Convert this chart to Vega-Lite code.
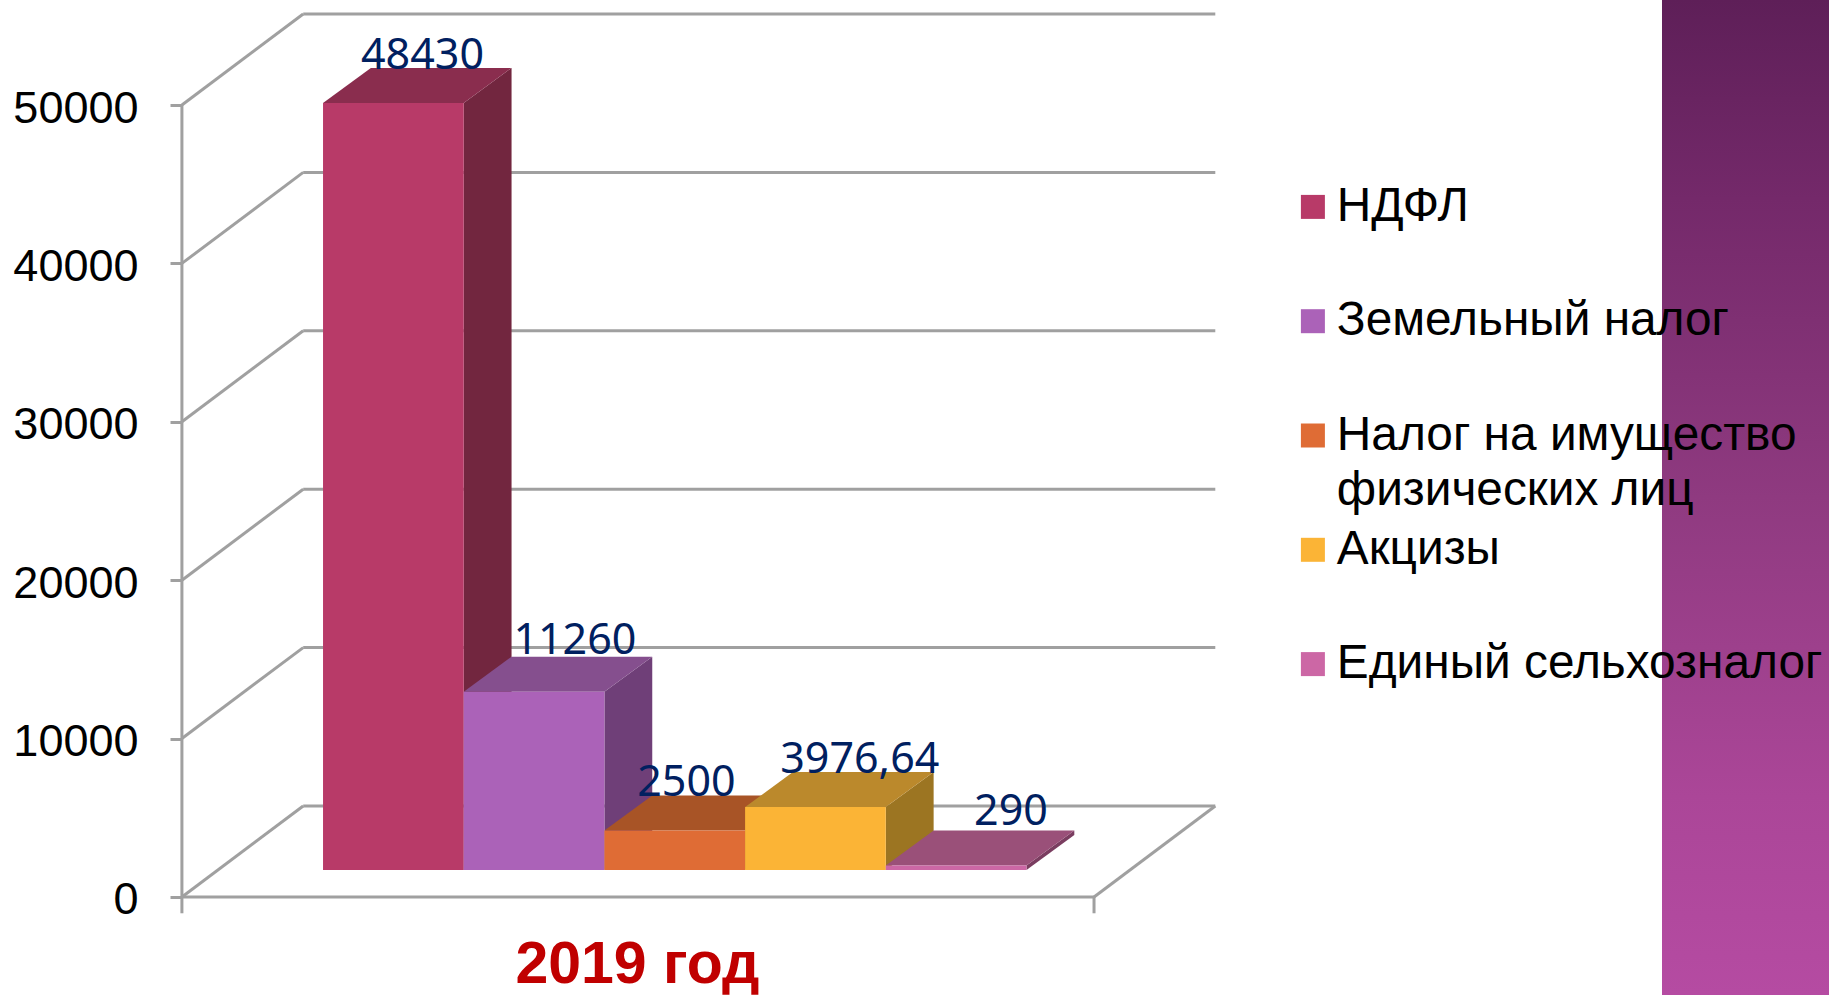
{
"$schema":"https://vega.github.io/schema/vega-lite/v6.json",
"width":1829,"height":995,
"autosize":"none",
"padding":0,
"background":"white",
"config":{"view":{"stroke":null},"font":"Liberation Sans"},
"datasets":{
"taxes":[
{"tax":"НДФЛ","value":48430,"label":"48430"},
{"tax":"Земельный налог","value":11260,"label":"11260"},
{"tax":"Налог на имущество физических лиц","value":2500,"label":"2500"},
{"tax":"Акцизы","value":3976.64,"label":"3976,64"},
{"tax":"Единый сельхозналог","value":290,"label":"290"}
],
"levels":[{"level":0},{"level":10000},{"level":20000},{"level":30000},{"level":40000},{"level":50000}]
},
"resolve":{"scale":{"color":"independent"}},
"layer":[
{"data":{"values":[{"strip":"фон"}]},
 "mark":{"type":"rect","fill":{"gradient":"linear","x1":0,"y1":0,"x2":0,"y2":1,"stops":[{"offset":0,"color":"#5e1f58"},{"offset":0.2,"color":"#74296a"},{"offset":0.5,"color":"#8f3a80"},{"offset":0.8,"color":"#ab4698"},{"offset":1,"color":"#b54ba2"}]}},
 "encoding":{
  "x":{"datum":11.813,"type":"quantitative","scale":{"domain":[0,13],"nice":false,"zero":false},"axis":{"title":"2019 год","titleFontSize":59,"titleFontWeight":"bold","titleColor":"#c00000","titleFont":"Liberation Sans","titleX":637,"titleY":-31,"titleBaseline":"middle","titleAlign":"center","titleAnchor":"start","labels":false,"ticks":false,"domain":false,"grid":false}},
  "x2":{"datum":13},
  "y":{"datum":-6190,"type":"quantitative","scale":{"domain":[-6190,56630],"nice":false,"zero":false},"axis":{"title":null,"values":[0,10000,20000,30000,40000,50000],"format":"d","offset":-182,"domain":false,"grid":false,"tickSize":12,"tickColor":"#a0a0a0","tickWidth":3,"labelFontSize":45,"labelFont":"Liberation Sans","labelColor":"#000000","labelPadding":32,"labelOffset":3}},
  "y2":{"datum":56630}}},
{"data":{"name":"levels"},
 "transform":[{"calculate":"datum.level+5744","as":"back"}],
 "mark":{"type":"rule","color":"#a0a0a0","strokeWidth":3},
 "encoding":{"x":{"datum":2.155,"type":"quantitative"},"x2":{"datum":8.638},"y":{"field":"back","type":"quantitative"}}},
{"data":{"name":"levels"},
 "transform":[{"calculate":"datum.level+5744","as":"back"}],
 "mark":{"type":"rule","color":"#a0a0a0","strokeWidth":3},
 "encoding":{
  "x":{"datum":1.293,"type":"quantitative"},
  "x2":{"datum":2.155},
  "y":{"field":"level","type":"quantitative"},
  "y2":{"field":"back"}}},
{"data":{"name":"levels"},
 "transform":[{"filter":"datum.level==0"},{"calculate":"datum.level+5744","as":"back"}],
 "mark":{"type":"rule","color":"#a0a0a0","strokeWidth":3},
 "encoding":{"x":{"datum":7.776,"type":"quantitative"},"x2":{"datum":8.638},"y":{"field":"level","type":"quantitative"},"y2":{"field":"back"}}},
{"data":{"name":"levels"},
 "transform":[{"filter":"datum.level==0"}],
 "mark":{"type":"rule","color":"#a0a0a0","strokeWidth":3},
 "encoding":{"x":{"datum":1.293,"type":"quantitative"},"x2":{"datum":7.776},"y":{"field":"level","type":"quantitative"}}},
{"data":{"name":"levels"},
 "transform":[{"filter":"datum.level==0"},{"calculate":"-1030","as":"tickEnd"},{"calculate":"[1.293,7.776]","as":"at"},{"flatten":["at"]}],
 "mark":{"type":"rule","color":"#a0a0a0","strokeWidth":3},
 "encoding":{"x":{"field":"at","type":"quantitative"},"y":{"field":"level","type":"quantitative"},"y2":{"field":"tickEnd"}}},
{"data":{"values":[{"from":0,"to":50000}]},
 "mark":{"type":"rule","color":"#a0a0a0","strokeWidth":3},
 "encoding":{"x":{"datum":1.293,"type":"quantitative"},"y":{"field":"from","type":"quantitative"},"y2":{"field":"to"}}},
{"data":{"name":"taxes"},
 "transform":[
  {"window":[{"op":"row_number","as":"rank"}]},
  {"calculate":"[0,1]","as":"t"},{"flatten":["t"]},
  {"calculate":"1.296+datum.rank+1+0.34*datum.t","as":"px"},
  {"calculate":"1700+2209*datum.t","as":"py0"},
  {"calculate":"datum.py0+datum.value","as":"py1"}],
 "mark":{"type":"area","interpolate":"linear","opacity":1,"line":false},
 "encoding":{
  "x":{"field":"px","type":"quantitative"},
  "y":{"field":"py0","type":"quantitative"},
  "y2":{"field":"py1"},
  "color":{"field":"tax","type":"nominal","legend":null,"scale":{"domain":["НДФЛ","Земельный налог","Налог на имущество физических лиц","Акцизы","Единый сельхозналог"],"range":["#72263f","#6f3f78","#8f4a26","#9c7522","#7a3d60"]}}}},
{"data":{"name":"taxes"},
 "transform":[
  {"window":[{"op":"row_number","as":"rank"}]},
  {"calculate":"[0,1,2,3]","as":"t"},{"flatten":["t"]},
  {"calculate":"1.296+datum.rank+[0,0.34,1,1.34][datum.t]","as":"px"},
  {"calculate":"1700+datum.value+[0,0,0,2209][datum.t]","as":"py0"},
  {"calculate":"1700+datum.value+[0,2209,2209,2209][datum.t]","as":"py1"}],
 "mark":{"type":"area","interpolate":"linear","opacity":1,"line":false},
 "encoding":{
  "x":{"field":"px","type":"quantitative"},
  "y":{"field":"py0","type":"quantitative"},
  "y2":{"field":"py1"},
  "color":{"field":"tax","type":"nominal","legend":null,"scale":{"domain":["НДФЛ","Земельный налог","Налог на имущество физических лиц","Акцизы","Единый сельхозналог"],"range":["#8a2d4e","#854f8e","#a85426","#bb892c","#9a5079"]}}}},
{"data":{"name":"taxes"},
 "transform":[
  {"window":[{"op":"row_number","as":"rank"}]},
  {"calculate":"1.296+datum.rank","as":"x0"},{"calculate":"datum.x0+1","as":"x1"},
  {"calculate":"1700","as":"y0"},{"calculate":"1700+datum.value","as":"y1"}],
 "mark":{"type":"bar"},
 "encoding":{
  "x":{"field":"x0","type":"quantitative"},
  "x2":{"field":"x1"},
  "y":{"field":"y0","type":"quantitative"},
  "y2":{"field":"y1"},
  "color":{"field":"tax","type":"nominal","sort":null,
   "scale":{"domain":["НДФЛ","Земельный налог","Налог на имущество физических лиц","Акцизы","Единый сельхозналог"],"range":["#b83a68","#ab62b8","#df6c35","#fbb436","#cc67a5"]},
   "legend":{"orient":"none","legendX":1289,"legendY":183,"title":null,"padding":0,"symbolType":"square","symbolSize":576,"symbolStrokeWidth":0,"labelFontSize":47.8,"labelFont":"Liberation Sans","labelColor":"#000000","labelLimit":600,"labelOffset":0,"rowPadding":10.3,"gridAlign":"all","columns":1,"labelExpr":"datum.label=='Налог на имущество физических лиц'?['Налог на имущество','физических лиц']:datum.label","encoding":{"labels":{"lineHeight":{"value":55}}}}}}},
{"data":{"name":"taxes"},
 "transform":[
  {"window":[{"op":"row_number","as":"rank"}]},
  {"calculate":"1.296+datum.rank+0.5+[0.207,0.29,0.083,0.315,0.39][datum.rank-1]","as":"lx"},
  {"calculate":"1700+datum.value+[-300,-60,-300,-300,60][datum.rank-1]","as":"ly"}],
 "mark":{"type":"text","font":"Noto Sans","fontSize":43,"color":"#002060","dy":-52,"baseline":"middle","align":"center"},
 "encoding":{
  "x":{"field":"lx","type":"quantitative"},
  "y":{"field":"ly","type":"quantitative"},
  "text":{"field":"label"}}}
]
}
